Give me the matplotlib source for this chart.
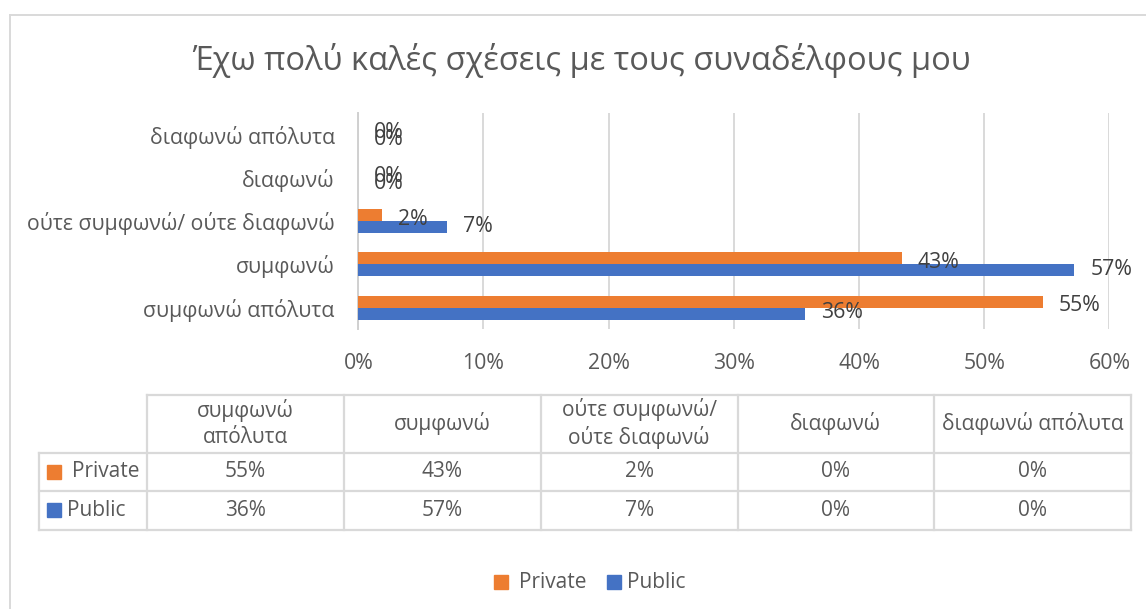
import matplotlib
matplotlib.use("Agg")
import matplotlib.pyplot as plt
from matplotlib.patches import Rectangle
from matplotlib.lines import Line2D
import numpy as np

plt.rcParams['font.family'] = ['Open Sans', 'DejaVu Sans']

# --- data -------------------------------------------------------------
title = "Έχω πολύ καλές σχέσεις με τους συναδέλφους μου"
categories = ["συμφωνώ απόλυτα", "συμφωνώ", "ούτε συμφωνώ/ ούτε διαφωνώ",
              "διαφωνώ", "διαφωνώ απόλυτα"]
table_headers = ["συμφωνώ\nαπόλυτα", "συμφωνώ", "ούτε συμφωνώ/\nούτε διαφωνώ",
                 "διαφωνώ", "διαφωνώ απόλυτα"]
series_names = ["Private", "Public"]
private = [0.547, 0.434, 0.019, 0.0, 0.0]
public = [0.357, 0.572, 0.071, 0.0, 0.0]
x_ticks = [0.0, 0.1, 0.2, 0.3, 0.4, 0.5, 0.6]

# --- style ------------------------------------------------------------
ORANGE = "#ED7D31"
BLUE = "#4472C4"
GRID = "#D9D9D9"
TEXT = "#595959"
LABEL = "#404040"
FS = 15.3
FS_TAB = 15.0

W, H = 1146, 609
fig = plt.figure(figsize=(W / 100, H / 100), dpi=100)


def fx(x):
    return x / W


def fy(y):
    return 1 - y / H


# outer chart frame (top and left edges visible)
fig.add_artist(Line2D([fx(9.5), 1.0], [fy(14.7), fy(14.7)], color=GRID, lw=1.4))
fig.add_artist(Line2D([fx(9.5), fx(9.5)], [fy(14.7), 0.0], color=GRID, lw=1.4))

fig.text(fx(581), fy(60), title, ha="center", va="center",
         fontsize=23.5, color=TEXT)

# --- bar chart ----------------------------------------------------------
left, right, top, bottom = 358.3, 1109.3, 113.0, 329.3
ax = fig.add_axes([fx(left), fy(bottom), fx(right - left), (bottom - top) / H])

y = np.arange(len(categories))
h = 0.277
ax.barh(y + h / 2, private, height=h, color=ORANGE, zorder=3)
ax.barh(y - h / 2, public, height=h, color=BLUE, zorder=3)

ax.set_xlim(0, 0.6)
ax.set_ylim(-0.5, len(categories) - 0.5)
ax.set_xticks(x_ticks)
ax.set_xticklabels([f"{round(t * 100):.0f}%" for t in x_ticks])
ax.set_yticks(y)
ax.set_yticklabels(categories)
ax.xaxis.grid(True, color=GRID, lw=1.4)
ax.set_axisbelow(True)
for side in ("top", "right", "bottom"):
    ax.spines[side].set_visible(False)
ax.spines["left"].set_color("#D0D0D0")
ax.spines["left"].set_linewidth(1.4)
ax.tick_params(axis="both", length=0, labelsize=FS, labelcolor=TEXT)
ax.tick_params(axis="x", pad=17)
ax.tick_params(axis="y", pad=17)

for vals, off, dy in ((private, h / 2, -3.0), (public, -h / 2, 0.5)):
    for yi, v in zip(y, vals):
        ax.annotate(f"{round(v * 100):.0f}%", xy=(v, yi + off), xytext=(11.5, dy),
                    textcoords="offset points", ha="left", va="center",
                    fontsize=FS, color=LABEL, zorder=4)

# --- data table ---------------------------------------------------------
col_edges = [147, 344, 541, 737.5, 934, 1131]
row_edges = [394.7, 452.7, 491, 529.7]
label_left = 39
lw_tab = 1.6

fig.add_artist(Line2D([fx(col_edges[0]), fx(col_edges[-1])],
                      [fy(row_edges[0])] * 2, color=GRID, lw=lw_tab))
for ry in row_edges[1:]:
    fig.add_artist(Line2D([fx(label_left), fx(col_edges[-1])], [fy(ry)] * 2,
                          color=GRID, lw=lw_tab))
fig.add_artist(Line2D([fx(label_left)] * 2, [fy(row_edges[1]), fy(row_edges[-1])],
                      color=GRID, lw=lw_tab))
for cx in col_edges:
    fig.add_artist(Line2D([fx(cx)] * 2, [fy(row_edges[0]), fy(row_edges[-1])],
                          color=GRID, lw=lw_tab))

header_y = (row_edges[0] + row_edges[1]) / 2
for i, hdr in enumerate(table_headers):
    cx = (col_edges[i] + col_edges[i + 1]) / 2
    fig.text(fx(cx), fy(header_y), hdr, ha="center", va="center",
             fontsize=FS_TAB, color=TEXT, linespacing=1.3)

row_keys = [(ORANGE, 72), (BLUE, 67)]
for r, (name, vals) in enumerate(zip(series_names, (private, public))):
    cy = (row_edges[r + 1] + row_edges[r + 2]) / 2
    color, tx = row_keys[r]
    fig.add_artist(Rectangle((fx(47), fy(cy + 7)), fx(14), 14 / H, color=color))
    fig.text(fx(tx), fy(cy), name, ha="left", va="center", fontsize=FS_TAB, color=TEXT)
    for i, v in enumerate(vals):
        cx = (col_edges[i] + col_edges[i + 1]) / 2
        fig.text(fx(cx), fy(cy), f"{round(v * 100):.0f}%", ha="center", va="center",
                 fontsize=FS_TAB, color=TEXT)

# --- legend -------------------------------------------------------------
leg_y = 582
for (name, color, sx, tx) in ((series_names[0], ORANGE, 494, 519),
                              (series_names[1], BLUE, 607, 627)):
    fig.add_artist(Rectangle((fx(sx), fy(leg_y + 7)), fx(14), 14 / H, color=color))
    fig.text(fx(tx), fy(leg_y), name, ha="left", va="center", fontsize=FS_TAB, color=TEXT)

fig.savefig("out.png", dpi=100)
